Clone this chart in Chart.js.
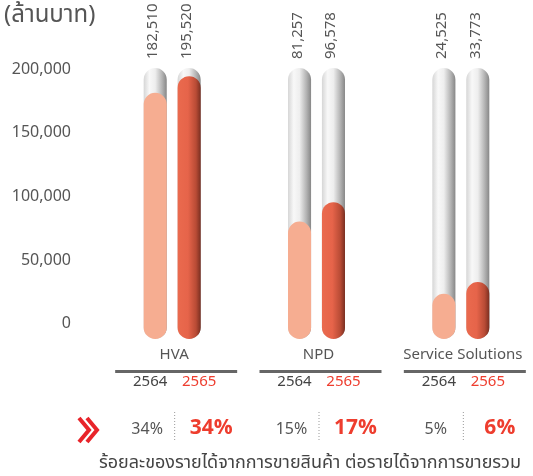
<!DOCTYPE html>
<html>
<head>
<meta charset="utf-8">
<script src="https://cdn.jsdelivr.net/npm/chart.js@4"></script>
<style>
  html, body { margin: 0; padding: 0; background: #fff; overflow: hidden; }
  #wrap { width: 533px; height: 476px; }
</style>
</head>
<body>
<div id="wrap"><canvas id="myChart" width="533" height="476"></canvas></div>
<script>
// données
var categories = ["HVA", "NPD", "Service Solutions"];
var years = ["2564", "2565"];
var values2564 = [182510, 81257, 24525];
var values2565 = [195520, 96578, 33773];
var pct2564 = [34, 15, 5];
var pct2565 = [34, 17, 6];
var yTicks = [0, 50000, 100000, 150000, 200000];
var unitTitle = "(ล้านบาท)";
var caption = "ร้อยละของรายได้จากการขายสินค้า ต่อรายได้จากการขายรวม";

var yMin = -11000;   // le bas arrondi des tubes descend sous zéro
var yMax = 202000;   // haut des tubes gris
var FONT = '"Noto Sans Thai", "Noto Sans", "Open Sans", sans-serif';
var GREY_TXT = "#555";
var RED = "#ee3d2e";

function fmt(v) {
  return v.toLocaleString("en-US");
}

// dégradé horizontal calé sur la barre
function barGradient(stops, fallback) {
  return function (ctx) {
    var chart = ctx.chart;
    var meta = chart.getDatasetMeta(ctx.datasetIndex);
    var el = meta.data[ctx.dataIndex];
    if (!el || !el.width || isNaN(el.x)) return fallback;
    var g = chart.ctx.createLinearGradient(el.x - el.width / 2, 0, el.x + el.width / 2, 0);
    stops.forEach(function (s) { g.addColorStop(s[0], s[1]); });
    return g;
  };
}

var tubeStops = [[0, "#d6d6d6"], [0.25, "#f8f8f8"], [0.5, "#eeeeee"], [0.8, "#b3b3b3"], [1, "#878787"]];
var redStops = [[0, "#ea6a4e"], [0.45, "#e6644a"], [0.8, "#b84b35"], [1, "#7a2f21"]];

var commonBar = {
  borderRadius: 20,
  borderSkipped: false,
  categoryPercentage: 0.47,
  barPercentage: 0.68,
  clip: false
};

var datasets = [
  Object.assign({
    label: years[0],
    stack: "a",
    order: 0,
    data: values2564.map(function (v) { return [yMin, v]; }),
    backgroundColor: "#f6ad91"
  }, commonBar),
  Object.assign({
    label: years[1],
    stack: "b",
    order: 0,
    data: values2565.map(function (v) { return [yMin, v]; }),
    backgroundColor: barGradient(redStops, "#e6644a")
  }, commonBar),
  Object.assign({
    label: "bg " + years[0],
    stack: "a",
    order: 1,
    data: categories.map(function () { return [yMin, yMax]; }),
    backgroundColor: barGradient(tubeStops, "#e0e0e0")
  }, commonBar),
  Object.assign({
    label: "bg " + years[1],
    stack: "b",
    order: 1,
    data: categories.map(function () { return [yMin, yMax]; }),
    backgroundColor: barGradient(tubeStops, "#e0e0e0")
  }, commonBar)
];

// textes autour du graphique
var annotations = {
  id: "annotations",
  afterDraw: function (chart) {
    var c = chart.ctx;
    var x = chart.scales.x;
    var y = chart.scales.y;
    c.save();

    // titre de l'unité
    c.fillStyle = GREY_TXT;
    c.font = "24px " + FONT;
    c.textAlign = "left";
    c.textBaseline = "middle";
    c.fillText(unitTitle, 4, 17);

    // valeurs verticales au-dessus des tubes
    c.font = "15px " + FONT;
    var topPix = y.getPixelForValue(yMax) - 9;
    [values2564, values2565].forEach(function (vals, di) {
      var meta = chart.getDatasetMeta(di);
      vals.forEach(function (v, i) {
        var el = meta.data[i];
        c.save();
        c.translate(el.x - 1, topPix);
        c.rotate(-Math.PI / 2);
        c.textAlign = "left";
        c.textBaseline = "middle";
        c.fillStyle = GREY_TXT;
        c.fillText(fmt(v), 0, 0);
        c.restore();
      });
    });

    categories.forEach(function (cat, i) {
      var cx = x.getPixelForValue(i);

      c.fillStyle = GREY_TXT;
      c.font = "15px " + FONT;
      c.textAlign = "center";
      c.textBaseline = "middle";
      c.fillText(cat, cx + 2, 356);

      // trait sous la catégorie
      c.strokeStyle = "#666";
      c.lineWidth = 3;
      c.beginPath();
      c.moveTo(cx - 57, 371.5);
      c.lineTo(cx + 65, 371.5);
      c.stroke();

      c.font = "15px " + FONT;
      c.fillStyle = "#444";
      c.fillText(years[0], cx - 22, 383);
      c.fillStyle = RED;
      c.fillText(years[1], cx + 27, 383);

      // ligne des pourcentages
      c.fillStyle = GREY_TXT;
      c.font = "16px " + FONT;
      c.fillText(pct2564[i] + "%", cx - 25, 431);

      c.strokeStyle = "#999";
      c.lineWidth = 1;
      c.setLineDash([1, 2]);
      c.beginPath();
      c.moveTo(cx + 2.5, 412);
      c.lineTo(cx + 2.5, 442);
      c.stroke();
      c.setLineDash([]);

      c.fillStyle = RED;
      c.font = "bold 21px " + FONT;
      c.fillText(pct2565[i] + "%", cx + 39, 430);
    });

    // double chevron rouge
    c.strokeStyle = "#e8242a";
    c.lineWidth = 4;
    c.lineJoin = "miter";
    [79, 87].forEach(function (px) {
      c.beginPath();
      c.moveTo(px, 418);
      c.lineTo(px + 10, 430);
      c.lineTo(px, 442);
      c.stroke();
    });

    // légende du bas
    c.fillStyle = "#444";
    c.font = "18px " + FONT;
    c.textAlign = "center";
    c.fillText(caption, 310, 464);

    c.restore();
  }
};

var ctx = document.getElementById("myChart").getContext("2d");
var myChart = new Chart(ctx, {
  type: "bar",
  data: { labels: categories, datasets: datasets },
  options: {
    responsive: false,
    animation: false,
    layout: { padding: { top: 68, bottom: 129, right: 0, left: 0 } },
    plugins: {
      legend: { display: false },
      tooltip: { enabled: false }
    },
    scales: {
      x: {
        offset: true,
        grid: { display: false },
        border: { display: false },
        ticks: { display: false }
      },
      y: {
        stacked: false,
        min: yMin,
        max: yMax,
        grid: { display: false, drawTicks: false },
        border: { display: false },
        afterBuildTicks: function (scale) {
          scale.ticks = yTicks.map(function (v) { return { value: v }; });
        },
        afterFit: function (scale) {
          scale.width = 100;
        },
        ticks: {
          padding: 29,
          color: GREY_TXT,
          font: { size: 16, family: FONT },
          callback: function (v) { return fmt(v); }
        }
      }
    }
  },
  plugins: [annotations]
});

// deuxième passe pour que les dégradés connaissent la position des barres
myChart.update("none");
</script>
</body>
</html>
